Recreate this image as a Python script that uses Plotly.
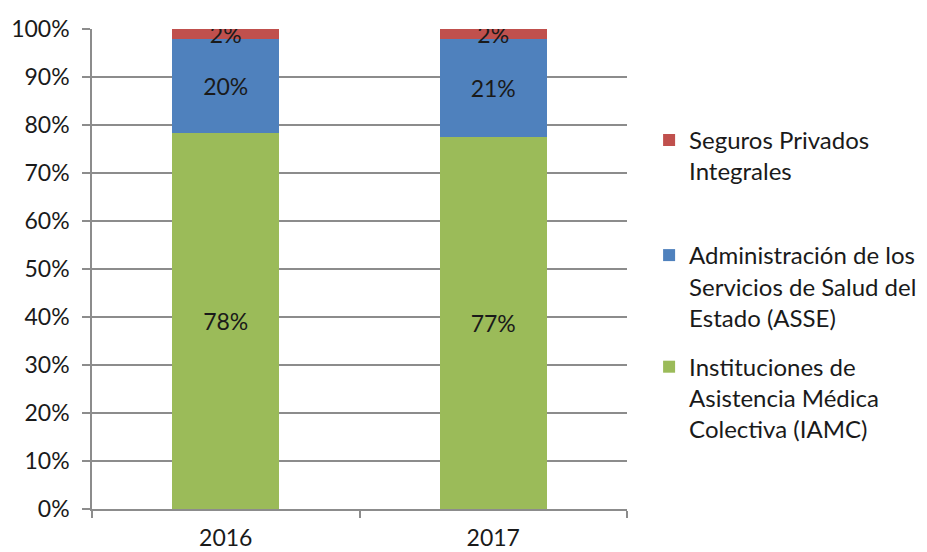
import plotly.graph_objects as go

years = ["2016", "2017"]
iamc = [78.4, 77.4]
asse = [19.6, 20.6]
seguros = [2.0, 2.0]

names = [
    "Instituciones de<br>Asistencia Médica<br>Colectiva (IAMC)",
    "Administración de los<br>Servicios de Salud del<br>Estado (ASSE)",
    "Seguros Privados<br>Integrales",
]
colors = ["#9BBB59", "#4F81BD", "#C0504D"]
legends = ["legend2", "legend2", "legend"]
ranks = [2, 1, 1]

FONT = "Lato"
TXT = "#1a1a1a"
fig = go.Figure()
for vals, name, col, lg, rk in zip([iamc, asse, seguros], names, colors, legends, ranks):
    fig.add_trace(go.Bar(
        x=years, y=vals, name=name, marker_color=col, marker_line_width=0,
        width=0.4, legendgroup=name, legend=lg, legendrank=rk,
        texttemplate="%{y:.0f}%", textposition="inside", insidetextanchor="middle",
        textangle=0, constraintext="none",
        textfont=dict(family=FONT, size=23, color=TXT),
    ))

leg = dict(
    xref="container", x=0.6976, xanchor="left", yanchor="top",
    valign="top", tracegroupgap=15, traceorder="grouped",
    font=dict(family=FONT, size=24, color=TXT),
)

# the page body adds an 8px margin, so the figure is 8px smaller than the window
fig.update_layout(
    barmode="stack",
    width=919, height=544,
    margin=dict(l=84, r=300, t=21, b=43),
    plot_bgcolor="white", paper_bgcolor="white",
    font=dict(family=FONT, size=23, color=TXT),
    legend=dict(leg, y=0.815),
    legend2=dict(leg, y=0.575),
    showlegend=True,
)
fig.update_yaxes(
    range=[0, 100], dtick=10, ticksuffix="%",
    showgrid=True, gridcolor="#8C8C8C", gridwidth=1.5,
    showline=True, linecolor="#8C8C8C", linewidth=1.5,
    ticks="outside", ticklen=8, tickcolor="#8C8C8C", tickwidth=1.5,
    ticklabelstandoff=8, zeroline=False, automargin=False,
)
fig.update_xaxes(
    showline=True, linecolor="#8C8C8C", linewidth=1.5,
    ticks="outside", ticklen=7, tickcolor="#8C8C8C", tickwidth=1.5,
    tickson="boundaries", showgrid=False, ticklabelstandoff=8,
    automargin=False,
)

fig.write_html("out.html")
